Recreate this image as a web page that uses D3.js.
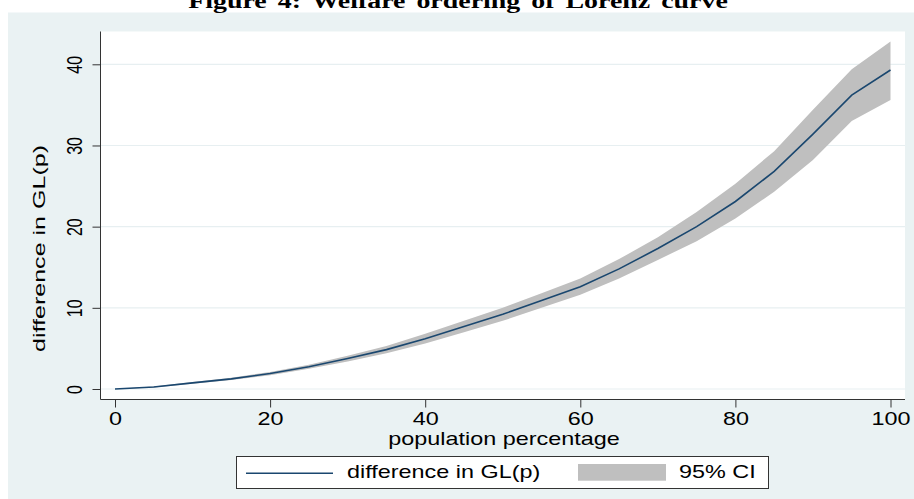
<!DOCTYPE html>
<html>
<head>
<meta charset="utf-8">
<script src="https://cdn.jsdelivr.net/npm/d3@7"></script>
<style>
  body { margin: 0; background: #ffffff; }
  svg { display: block; }
</style>
</head>
<body>
<svg id="chart" width="914" height="499"></svg>
<script>
// Population percentage (x) at 5-point steps
const popPct = [0, 5, 10, 15, 20, 25, 30, 35, 40, 45, 50, 55, 60, 65, 70, 75, 80, 85, 90, 95, 100];
// Difference in generalized Lorenz ordinate GL(p)
const glDiff = [0, 0.25, 0.75, 1.25, 1.9, 2.75, 3.75, 4.85, 6.2, 7.7, 9.2, 10.9, 12.6, 14.8, 17.3, 20.0, 23.1, 26.8, 31.4, 36.2, 39.3];
// 95% confidence interval bounds
const ciLow  = [0, 0.2, 0.65, 1.1, 1.7, 2.5, 3.4, 4.4, 5.6, 7.0, 8.4, 10.0, 11.6, 13.6, 15.9, 18.2, 21.0, 24.3, 28.2, 33.0, 35.6];
const ciHigh = [0, 0.3, 0.85, 1.4, 2.1, 3.0, 4.1, 5.3, 6.8, 8.4, 10.0, 11.8, 13.6, 16.0, 18.7, 21.8, 25.3, 29.3, 34.4, 39.4, 42.8];
const xTicks = [0, 20, 40, 60, 80, 100];
const yTicks = [0, 10, 20, 30, 40];

const titleText = "Figure 4: Welfare ordering of Lorenz curve";
const xTitle = "population percentage";
const yTitle = "difference in GL(p)";
const legendLine = "difference in GL(p)";
const legendBand = "95% CI";

const SANS = "'Liberation Sans', Arial, Helvetica, sans-serif";
const SERIF = "'Liberation Serif', 'Times New Roman', serif";
const SX = 1.33;           // horizontal text stretch
const FS = 17.6;           // label font size
const NAVY = "#1a476f";
const BAND = "#bfbfbf";
const BG = "#eaf2f3";
const GRID = "#e7eff1";

const svg = d3.select("#chart");

// Graph region background
svg.append("rect").attr("x", 8).attr("y", 12.5).attr("width", 906).attr("height", 487).attr("fill", BG);

// Plot region
const plot = { left: 100.5, right: 905, top: 31.5, bottom: 399.5 };
svg.append("rect")
  .attr("x", plot.left).attr("y", plot.top)
  .attr("width", plot.right - plot.left).attr("height", plot.bottom - plot.top)
  .attr("fill", "#ffffff");

const x = d3.scaleLinear().domain([0, 100]).range([115, 890.5]);
const y = d3.scaleLinear().domain([0, 40]).range([389, 64.3]);

// Horizontal grid lines
svg.append("g").selectAll("line").data(yTicks).join("line")
  .attr("x1", plot.left).attr("x2", plot.right)
  .attr("y1", d => y(d)).attr("y2", d => y(d))
  .attr("stroke", GRID).attr("stroke-width", 1.2);

// Confidence band
const rows = popPct.map((p, i) => ({ p, v: glDiff[i], lo: ciLow[i], hi: ciHigh[i] }));
svg.append("path").datum(rows)
  .attr("fill", BAND)
  .attr("d", d3.area().x(d => x(d.p)).y0(d => y(d.lo)).y1(d => y(d.hi)));

// Estimate line
svg.append("path").datum(rows)
  .attr("fill", "none").attr("stroke", NAVY).attr("stroke-width", 1.6)
  .attr("d", d3.line().x(d => x(d.p)).y(d => y(d.v)));

// Axis lines
svg.append("line").attr("x1", plot.left).attr("x2", plot.left)
  .attr("y1", plot.top).attr("y2", plot.bottom).attr("stroke", "#333").attr("stroke-width", 1);
svg.append("line").attr("x1", plot.left).attr("x2", plot.right)
  .attr("y1", plot.bottom).attr("y2", plot.bottom).attr("stroke", "#333").attr("stroke-width", 1);

// X axis
const gx = svg.append("g").attr("transform", `translate(0,${plot.bottom})`)
  .call(d3.axisBottom(x).tickValues(xTicks).tickSize(8).tickFormat(d3.format("d")));
gx.select(".domain").remove();
gx.selectAll(".tick line").attr("stroke", "#333");
gx.selectAll(".tick text")
  .attr("y", 0).attr("dy", 0)
  .attr("transform", `translate(0,25.5) scale(${SX},1)`)
  .attr("font-family", SANS).attr("font-size", FS).attr("fill", "#000");

// Y axis
const gy = svg.append("g").attr("transform", `translate(${plot.left},0)`)
  .call(d3.axisLeft(y).tickValues(yTicks).tickSize(8).tickFormat(d3.format("d")));
gy.select(".domain").remove();
gy.selectAll(".tick line").attr("stroke", "#333");
gy.selectAll(".tick text")
  .attr("x", 0).attr("dy", 0).attr("text-anchor", "middle")
  .attr("transform", `translate(-18.5,0) scale(${SX},1) rotate(-90)`)
  .attr("font-family", SANS).attr("font-size", 16).attr("fill", "#000");

// Axis titles
svg.append("text")
  .attr("transform", `translate(504,444.5) scale(${SX},1)`)
  .attr("text-anchor", "middle").attr("font-family", SANS).attr("font-size", FS)
  .text(xTitle);
svg.append("text")
  .attr("transform", `translate(45,248.5) scale(1.05,1) rotate(-90)`)
  .attr("text-anchor", "middle").attr("font-family", SANS).attr("font-size", 16)
  .attr("textLength", 207).attr("lengthAdjust", "spacingAndGlyphs")
  .text(yTitle);

// Title (top clipped by the page edge)
svg.append("text")
  .attr("transform", `translate(458,7.5) scale(${SX},1)`)
  .attr("text-anchor", "middle")
  .attr("font-family", SERIF).attr("font-weight", "bold").attr("font-size", 21)
  .attr("word-spacing", 3)
  .text(titleText);

// Legend
const lg = svg.append("g");
lg.append("rect").attr("x", 236.5).attr("y", 456.5).attr("width", 532).attr("height", 32)
  .attr("fill", "#ffffff").attr("stroke", "#333").attr("stroke-width", 1);
lg.append("line").attr("x1", 246).attr("x2", 333).attr("y1", 473.3).attr("y2", 473.3)
  .attr("stroke", NAVY).attr("stroke-width", 1.6);
lg.append("text").attr("transform", `translate(347,478.3) scale(${SX},1)`)
  .attr("font-family", SANS).attr("font-size", FS).text(legendLine);
lg.append("rect").attr("x", 578).attr("y", 464).attr("width", 88).attr("height", 16.7).attr("fill", BAND);
lg.append("text").attr("transform", `translate(679,478.3) scale(${SX},1)`)
  .attr("font-family", SANS).attr("font-size", FS).text(legendBand);
</script>
</body>
</html>
